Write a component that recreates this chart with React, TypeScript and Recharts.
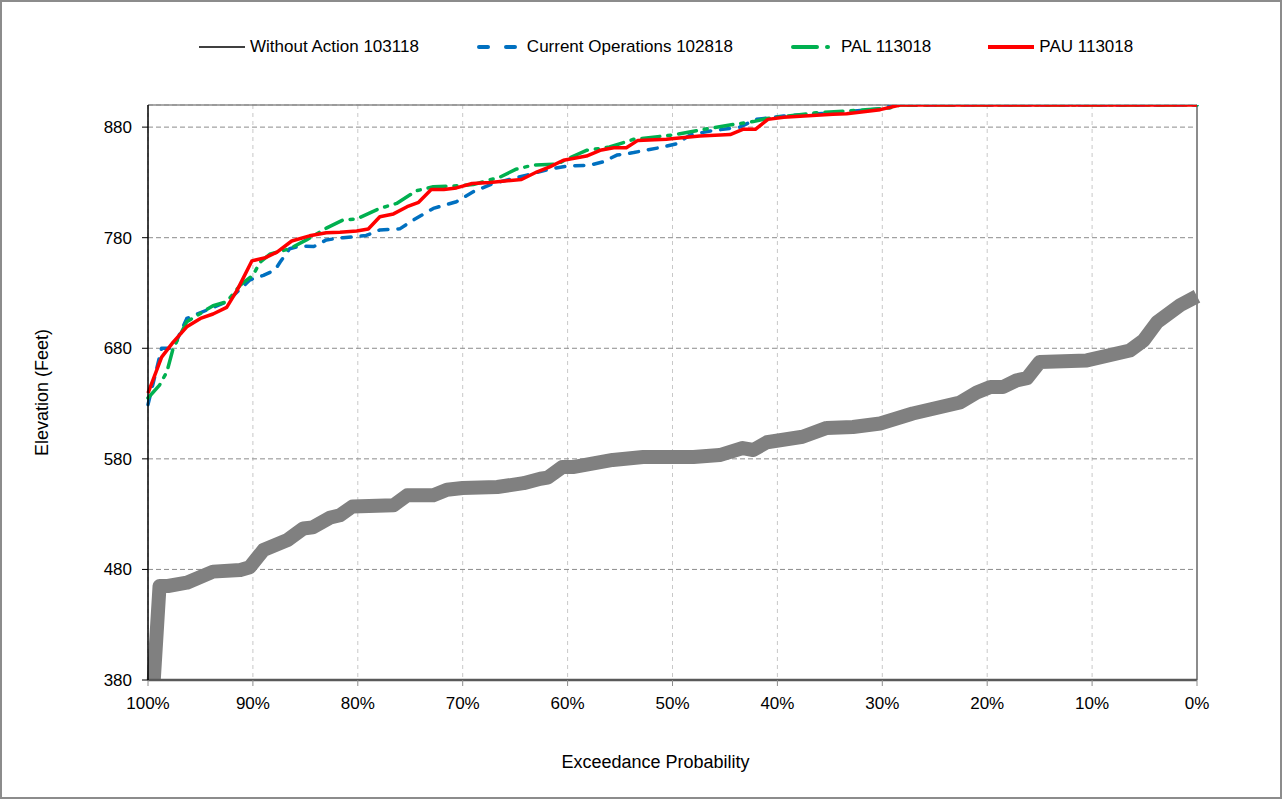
import React from 'react';
import { CartesianGrid, Line, LineChart, ReferenceLine, XAxis, YAxis } from 'recharts';

const probTicks = [100, 90, 80, 70, 60, 50, 40, 30, 20, 10, 0];
const elevTicks = [380, 480, 580, 680, 780, 880];

// Without Action 103118 (thick gray)
const withoutProb = [100, 98.9, 98.1, 96.3, 93.8, 91.2, 90.3, 89.0, 86.7, 85.2, 84.3, 82.6, 81.7, 80.5, 76.6, 75.3, 72.8, 71.5, 70.0, 66.7, 64.2, 62.6, 61.9, 60.5, 59.5, 55.7, 52.8, 48.0, 45.5, 43.3, 42.3, 41.0, 37.6, 35.3, 32.8, 30.2, 27.1, 22.6, 21.0, 19.7, 18.5, 17.2, 16.2, 15.0, 10.5, 6.4, 5.1, 3.8, 1.6, 0];
const withoutElev = [295, 465, 465, 468, 478, 479.5, 482, 497.5, 506.6, 517, 518, 527, 529, 537, 538, 547, 547, 552, 553.6, 554.5, 558, 562, 563, 572.6, 572.6, 579, 581.6, 581.6, 583.4, 589.8, 588, 595, 600, 608, 608.8, 612, 621, 631, 640, 645, 645, 651, 653, 667.5, 669, 678, 687, 703.7, 719, 727];

// Current Operations 102818 (blue dashed)
const currentProb = [100, 98.7, 97.6, 96.3, 94.4, 92.5, 90.3, 89.0, 87.9, 87.4, 86.5, 85.5, 84.2, 83.0, 81.4, 79.2, 77.9, 76.0, 74.7, 72.8, 70.6, 69.0, 67.1, 63.9, 61.7, 60.1, 57.9, 56.6, 55.3, 53.7, 50.9, 49.6, 48.3, 46.4, 43.6, 42.0, 39.4, 34.7, 30.2, 29.0, 0];
const currentElev = [629, 680, 680, 707, 714.5, 722, 741.7, 746, 750.7, 758, 770, 772.6, 772, 778, 780, 782, 787, 788, 796, 806.5, 812.5, 821.5, 829, 836.6, 842, 844.7, 845.6, 848.6, 854.7, 857, 862, 865, 873, 876.5, 880, 887, 890, 893, 896.5, 900, 900];

// PAL 113018 (green dash-dot)
const palProb = [100, 98.9, 98.2, 97.6, 96.3, 95.0, 93.8, 92.5, 91.2, 90.0, 89.3, 88.4, 86.5, 84.9, 83.0, 81.4, 80.1, 77.9, 76.3, 74.4, 72.8, 70.3, 69.0, 66.4, 64.9, 63.3, 61.0, 60.1, 58.2, 56.0, 53.7, 49.9, 46.1, 44.2, 42.3, 41.0, 36.3, 33.4, 29.3, 28.3, 0];
const palElev = [635, 646.7, 658.7, 680, 704, 711.5, 718.5, 722, 737, 746, 758, 765, 770, 778, 788.6, 796, 797, 806.5, 811, 822.5, 826, 827, 828, 835, 842, 845.6, 846.5, 851, 859, 862, 869, 873, 879.5, 882.4, 885, 887.8, 893, 894.6, 897.3, 900, 900];

// PAU 113018 (red solid)
const pauProb = [100, 98.7, 97.6, 96.3, 95.0, 93.8, 92.5, 91.5, 90.1, 88.8, 87.7, 86.3, 84.6, 83.0, 81.7, 80.1, 79.0, 77.9, 76.6, 75.3, 74.2, 73.0, 71.8, 70.6, 69.1, 67.4, 64.4, 62.9, 61.7, 60.4, 58.2, 56.9, 55.6, 54.4, 53.3, 50.6, 47.4, 44.5, 43.3, 42.1, 40.9, 39.4, 34.7, 33.4, 30.2, 28.3, 0];
const pauElev = [639.5, 672, 685.6, 699.4, 707, 711, 717, 732.6, 759, 762, 767, 777, 781.7, 784.5, 785, 786, 787.8, 799, 801.5, 808, 812, 823.6, 823.6, 825, 829, 830, 832.6, 839.6, 844, 850, 853.8, 859, 861.4, 861.4, 868, 869, 872, 873.3, 878, 878, 887, 889, 891.6, 892, 895.8, 900, 900];

const zip = (p: number[], e: number[]) => p.map((prob, i) => ({ prob, elev: e[i] }));

const series = [
  { name: 'Without Action 103118', data: zip(withoutProb, withoutElev), color: '#808080', width: 14, dash: undefined, legendColor: '#000000', legendWidth: 1.5, legendDash: undefined },
  { name: 'Current Operations 102818', data: zip(currentProb, currentElev), color: '#0070C0', width: 3.5, dash: '9 10', legendColor: '#0070C0', legendWidth: 4, legendDash: '9 18' },
  { name: 'PAL 113018', data: zip(palProb, palElev), color: '#00B050', width: 3.5, dash: '18 8 3 8', legendColor: '#00B050', legendWidth: 4, legendDash: '24 10 1 10' },
  { name: 'PAU 113018', data: zip(pauProb, pauElev), color: '#FF0000', width: 3.5, dash: undefined, legendColor: '#FF0000', legendWidth: 4, legendDash: undefined },
];

const font = '"Liberation Sans", Arial, sans-serif';

const LegendIcon = ({ s }: { s: (typeof series)[number] }) => (
  <svg width={46} height={10} style={{ display: 'block' }}>
    <line
      x1={s.legendDash ? 3 : 0}
      y1={5}
      x2={s.legendDash ? 43 : 46}
      y2={5}
      stroke={s.legendColor}
      strokeWidth={s.legendWidth}
      strokeDasharray={s.legendDash}
      strokeLinecap={s.legendDash ? 'round' : 'butt'}
    />
  </svg>
);

export default function App() {
  return (
    <div
      style={{
        position: 'absolute',
        left: 0,
        top: 0,
        width: 1282,
        height: 799,
        background: '#fff',
        fontFamily: font,
      }}
    >
      <LineChart width={1282} height={799} margin={{ top: 105, right: 85, bottom: 0, left: 0 }}>
        <CartesianGrid horizontal={false} vertical stroke="#c8c8c8" strokeDasharray="4 4" />
        <CartesianGrid horizontal vertical={false} stroke="#8c8c8c" strokeDasharray="5 3" />
        <ReferenceLine y={900} stroke="#8c8c8c" strokeWidth={1.5} />
        <ReferenceLine x={0} stroke="#8c8c8c" strokeWidth={2} />
        <XAxis
          dataKey="prob"
          type="number"
          domain={[0, 100]}
          reversed
          ticks={probTicks}
          tickFormatter={(v) => `${v}%`}
          height={119}
          tickSize={6}
          tickMargin={11}
          axisLine={{ stroke: '#595959', strokeWidth: 2.5 }}
          tickLine={{ stroke: '#8c8c8c' }}
          tick={{ fill: '#000', fontSize: 17 }}
          allowDuplicatedCategory={false}
          label={{ value: 'Exceedance Probability', position: 'center', dx: -17, dy: 22, fill: '#000', fontSize: 18 }}
        />
        <YAxis
          type="number"
          domain={[380, 900]}
          allowDataOverflow
          ticks={elevTicks}
          width={148}
          tickSize={6}
          tickMargin={10}
          axisLine={{ stroke: '#000', strokeWidth: 1.5 }}
          tickLine={{ stroke: '#000' }}
          tick={{ fill: '#000', fontSize: 17 }}
          label={{ value: 'Elevation (Feet)', angle: -90, position: 'center', dx: -32, fill: '#000', fontSize: 18 }}
        />
        {series.map((s) => (
          <Line
            key={s.name}
            data={s.data}
            dataKey="elev"
            name={s.name}
            type="linear"
            stroke={s.color}
            strokeWidth={s.width}
            strokeDasharray={s.dash}
            strokeLinecap={s.dash ? 'round' : 'butt'}
            strokeLinejoin="round"
            dot={false}
            activeDot={false}
            isAnimationActive={false}
          />
        ))}
      </LineChart>
      <div
        style={{
          position: 'absolute',
          left: 199,
          top: 37,
          height: 20,
          display: 'flex',
          alignItems: 'center',
          fontSize: 17,
          color: '#000',
          whiteSpace: 'nowrap',
        }}
      >
        {series.map((s) => (
          <div key={s.name} style={{ display: 'flex', alignItems: 'center', marginRight: 57 }}>
            <LegendIcon s={s} />
            <span style={{ marginLeft: 5 }}>{s.name}</span>
          </div>
        ))}
      </div>
      <div
        style={{
          position: 'absolute',
          left: 0,
          top: 0,
          width: 1282,
          height: 799,
          boxSizing: 'border-box',
          border: '2px solid #8c8c8c',
          pointerEvents: 'none',
        }}
      />
    </div>
  );
}
